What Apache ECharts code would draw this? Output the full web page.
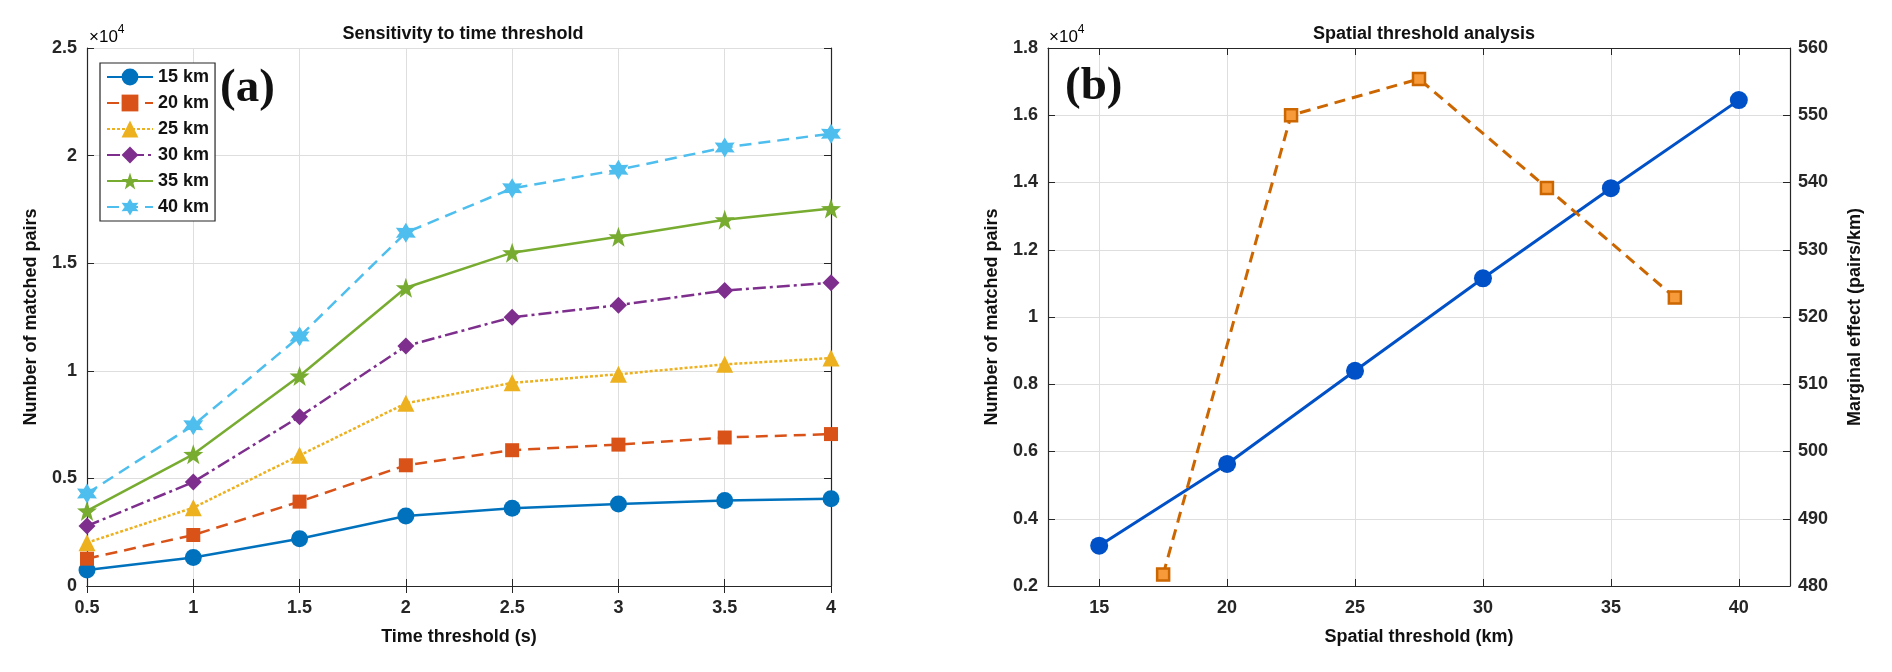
<!DOCTYPE html>
<html>
<head>
<meta charset="utf-8">
<script src="https://cdn.jsdelivr.net/npm/echarts@6/dist/echarts.min.js"></script>
<style>
  html, body { margin: 0; padding: 0; background: #fff; }
  #container { width: 1892px; height: 672px; }
</style>
</head>
<body>
<div id="container"></div>
<script>
// ---- panel (a): sensitivity to time threshold ----
var timeThreshold = [0.5, 1, 1.5, 2, 2.5, 3, 3.5, 4];
var seriesNames = ['15 km', '20 km', '25 km', '30 km', '35 km', '40 km'];
var km15 = [740, 1320, 2200, 3250, 3610, 3810, 3970, 4050];
var km20 = [1270, 2370, 3920, 5610, 6310, 6570, 6900, 7060];
var km25 = [2010, 3640, 6070, 8490, 9440, 9840, 10300, 10590];
var km30 = [2790, 4830, 7870, 11150, 12490, 13050, 13730, 14090];
var km35 = [3490, 6120, 9760, 13860, 15490, 16230, 17020, 17540];
var km40 = [4300, 7470, 11590, 16420, 18480, 19340, 20380, 21020];

// ---- panel (b): spatial threshold analysis ----
var spatialThreshold = [15, 20, 25, 30, 35, 40];
var matchedPairs = [3200, 5630, 8400, 11150, 13830, 16450];
var midThreshold = [17.5, 22.5, 27.5, 32.5, 37.5];
var marginalEffect = [481.7, 550.0, 555.4, 539.2, 522.9];
var spatialTicks = [15, 20, 25, 30, 35, 40];

var dom = document.getElementById('container');
var myChart = echarts.init(dom);

var FONT = '"Liberation Sans", Arial, sans-serif';
var AX = '#262626';
var GRIDC = '#dedede';

function starPath(n, inner) {
    var pts = [];
    for (var i = 0; i < 2 * n; i++) {
        var r = i % 2 ? inner : 1;
        var a = -Math.PI / 2 + i * Math.PI / n;
        pts.push((r * Math.cos(a)).toFixed(4) + ' ' + (r * Math.sin(a)).toFixed(4));
    }
    return 'path://M' + pts.join(' L') + ' Z';
}

function pairs(xs, ys) {
    return xs.map(function (x, i) { return [x, ys[i]]; });
}

function tickFmt(v) { return String(+(v / 10000).toFixed(1)); }

var labelStyle = { fontFamily: FONT, fontWeight: 'bold', fontSize: 18, color: AX };
var nameStyle = { fontFamily: FONT, fontWeight: 'bold', fontSize: 18, color: '#111' };

function mirror(gridIndex, pos, extra) {
    var a = {
        gridIndex: gridIndex, type: 'value', position: pos,
        axisLine: { show: true, lineStyle: { color: AX, width: 1.2 } },
        axisTick: { show: true, inside: true, length: 7, lineStyle: { color: AX } },
        axisLabel: { show: false }, splitLine: { show: false }
    };
    return Object.assign(a, extra);
}

var styles = [
    { c: '#0072BD', sym: 'circle', size: 17, line: 'solid' },
    { c: '#D95319', sym: 'rect', size: 14, line: [12, 7] },
    { c: '#EDB120', sym: 'triangle', size: 17, line: [3, 2] },
    { c: '#7E2F8E', sym: 'diamond', size: 17, line: [13, 4, 3, 4] },
    { c: '#77AC30', sym: starPath(5, 0.4), size: 20, line: 'solid' },
    { c: '#4DBEEE', sym: starPath(6, 0.55), size: 20, line: [12, 7] }
];
var kmData = [km15, km20, km25, km30, km35, km40];

var seriesA = kmData.map(function (vals, i) {
    var s = styles[i];
    return {
        name: seriesNames[i], type: 'line', xAxisIndex: 0, yAxisIndex: 0,
        data: pairs(timeThreshold, vals),
        symbol: s.sym, symbolSize: s.size, showSymbol: true, clip: false,
        itemStyle: { color: s.c },
        lineStyle: { color: s.c, width: 2.5, type: s.line }
    };
});

option = {
    animation: false,
    backgroundColor: '#fff',
    title: [
        { text: 'Sensitivity to time threshold', left: 458, top: 20, textAlign: 'center',
          textStyle: { fontFamily: FONT, fontWeight: 'bold', fontSize: 18, color: '#111' } },
        { text: 'Spatial threshold analysis', left: 1419, top: 20, textAlign: 'center',
          textStyle: { fontFamily: FONT, fontWeight: 'bold', fontSize: 18, color: '#111' } }
    ],
    legend: {
        data: seriesNames, orient: 'vertical', left: 100, top: 63,
        itemWidth: 46, itemHeight: 21, itemGap: 8,
        padding: [5, 6, 5, 6],
        borderColor: AX, borderWidth: 1.2, backgroundColor: '#fff',
        textStyle: { fontFamily: FONT, fontWeight: 'bold', fontSize: 18, color: '#111' }
    },
    grid: [
        { left: 87, top: 48, width: 744, height: 538 },
        { left: 1048, top: 48, width: 742, height: 538 }
    ],
    xAxis: [
        {
            gridIndex: 0, type: 'value', min: 0.5, max: 4, interval: 0.5,
            name: 'Time threshold (s)', nameLocation: 'middle', nameGap: 42, nameTextStyle: nameStyle,
            axisLine: { show: true, lineStyle: { color: AX, width: 1.2 } },
            axisTick: { inside: true, length: 7, lineStyle: { color: AX } },
            axisLabel: Object.assign({ margin: 13 }, labelStyle),
            splitLine: { show: true, lineStyle: { color: GRIDC, width: 1 } }
        },
        mirror(0, 'top', { min: 0.5, max: 4, interval: 0.5 }),
        {
            gridIndex: 1, type: 'value', min: 13, max: 42,
            name: 'Spatial threshold (km)', nameLocation: 'middle', nameGap: 42, nameTextStyle: nameStyle,
            axisLine: { show: true, lineStyle: { color: AX, width: 1.2 } },
            axisTick: { inside: true, length: 7, lineStyle: { color: AX }, customValues: spatialTicks },
            axisLabel: Object.assign({ margin: 13, customValues: spatialTicks }, labelStyle),
            splitLine: { show: true, lineStyle: { color: GRIDC, width: 1 } }
        },
        mirror(1, 'top', { min: 13, max: 42, axisTick: { show: true, inside: true, length: 7,
            lineStyle: { color: AX }, customValues: spatialTicks } })
    ],
    yAxis: [
        {
            gridIndex: 0, type: 'value', min: 0, max: 25000, interval: 5000,
            name: 'Number of matched pairs', nameLocation: 'middle', nameGap: 47, nameTextStyle: nameStyle,
            axisLine: { show: true, lineStyle: { color: AX, width: 1.2 } },
            axisTick: { show: true, inside: true, length: 7, lineStyle: { color: AX } },
            axisLabel: Object.assign({ margin: 10, formatter: tickFmt }, labelStyle),
            splitLine: { show: true, lineStyle: { color: GRIDC, width: 1 } }
        },
        mirror(0, 'right', { min: 0, max: 25000, interval: 5000 }),
        {
            gridIndex: 1, type: 'value', min: 2000, max: 18000, interval: 2000,
            name: 'Number of matched pairs', nameLocation: 'middle', nameGap: 47, nameTextStyle: nameStyle,
            axisLine: { show: true, lineStyle: { color: AX, width: 1.2 } },
            axisTick: { show: true, inside: true, length: 7, lineStyle: { color: AX } },
            axisLabel: Object.assign({ margin: 10, formatter: tickFmt }, labelStyle),
            splitLine: { show: true, lineStyle: { color: GRIDC, width: 1 } }
        },
        {
            gridIndex: 1, type: 'value', position: 'right', min: 480, max: 560, interval: 10,
            name: 'Marginal effect (pairs/km)', nameLocation: 'middle', nameGap: 56, nameTextStyle: nameStyle,
            axisLine: { show: true, lineStyle: { color: AX, width: 1.2 } },
            axisTick: { show: true, inside: true, length: 7, lineStyle: { color: AX } },
            axisLabel: Object.assign({ margin: 8 }, labelStyle),
            splitLine: { show: false }
        }
    ],
    graphic: [
        { type: 'text', left: 89, top: 24, style: { text: '{a|×10}{b|4}', rich: {
            a: { fontFamily: FONT, fontSize: 17, color: '#222', verticalAlign: 'bottom', lineHeight: 22 },
            b: { fontFamily: FONT, fontSize: 12, color: '#222', verticalAlign: 'top', lineHeight: 22 } } } },
        { type: 'text', left: 1049, top: 24, style: { text: '{a|×10}{b|4}', rich: {
            a: { fontFamily: FONT, fontSize: 17, color: '#222', verticalAlign: 'bottom', lineHeight: 22 },
            b: { fontFamily: FONT, fontSize: 12, color: '#222', verticalAlign: 'top', lineHeight: 22 } } } },
        { type: 'text', left: 220, top: 65, z: 100, style: { text: '(a)',
            font: 'bold 47px "Liberation Serif", "Times New Roman", serif', fill: '#111' } },
        { type: 'text', left: 1065, top: 63, z: 100, style: { text: '(b)',
            font: 'bold 47px "Liberation Serif", "Times New Roman", serif', fill: '#111' } }
    ],
    series: seriesA.concat([
        {
            name: 'Matched pairs', type: 'line', xAxisIndex: 2, yAxisIndex: 2,
            data: pairs(spatialThreshold, matchedPairs),
            symbol: 'circle', symbolSize: 18, clip: false,
            itemStyle: { color: '#0050C8' },
            lineStyle: { color: '#0050C8', width: 3 }
        },
        {
            name: 'Marginal effect', type: 'line', xAxisIndex: 2, yAxisIndex: 3,
            data: pairs(midThreshold, marginalEffect),
            symbol: 'rect', symbolSize: 12, clip: false,
            itemStyle: { color: '#F79A3A', borderColor: '#CC6600', borderWidth: 2.5 },
            lineStyle: { color: '#CC6600', width: 3, type: [11, 7] }
        }
    ])
};

if (option && typeof option === "object") {
    myChart.setOption(option, true);
}
</script>
</body>
</html>
